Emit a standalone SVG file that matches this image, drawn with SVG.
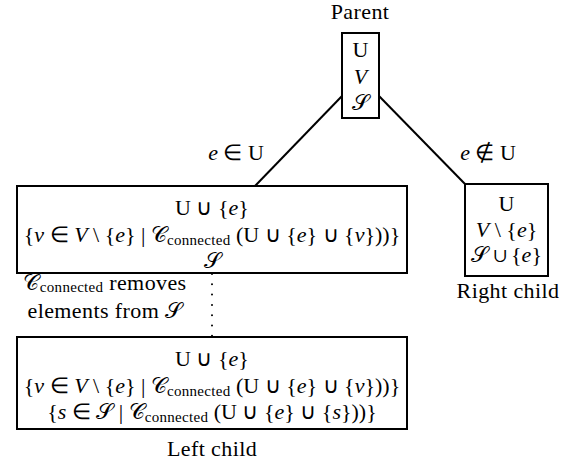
<svg xmlns="http://www.w3.org/2000/svg" width="563" height="467" viewBox="0 0 563 467" font-family="'Liberation Serif', 'Times New Roman', serif">
<style>
.box{fill:#fff;stroke:#000;stroke-width:2}
.edge{stroke:#000;stroke-width:2;fill:none}
.dot{stroke:#000;stroke-width:2;fill:none;stroke-dasharray:0 10.3;stroke-linecap:round}
.lbl{font-size:22px;letter-spacing:0.4px;text-anchor:middle;fill:#000}
.m{font-size:22px;text-anchor:middle;fill:#000}
.i{font-style:italic}
.sub{font-size:15px;letter-spacing:0.3px}
</style>
<rect width="563" height="467" fill="#fff"/>
<g id="connectors">
<line class="edge" x1="342" y1="96" x2="255" y2="186"/>
<line class="edge" x1="379" y1="96" x2="465" y2="184"/>
<line class="dot" x1="212" y1="274" x2="212" y2="337"/>
<text class="m" x="236" y="160"><tspan class="i">e</tspan> ∈ U</text>
<text class="m" x="488" y="160"><tspan class="i">e</tspan> ∉ U</text>
</g>
<g id="parent">
<text class="lbl" x="360" y="19">Parent</text>
<rect class="box" x="342" y="33" width="37" height="85"/>
<text class="m" x="360.5" y="57">U</text>
<text class="m" x="360.5" y="84"><tspan class="i">V</tspan></text>
<text class="m" x="360.5" y="110">𝒮</text>
</g>
<g id="mid">
<rect class="box" x="17" y="186" width="390" height="87"/>
<text class="m" x="212" y="215">U ∪ {<tspan class="i">e</tspan>}</text>
<text class="m" x="212" y="242">{<tspan class="i">v</tspan> ∈ <tspan class="i">V</tspan> \ {<tspan class="i">e</tspan>} | 𝒞<tspan class="sub" dy="3">connected</tspan><tspan dy="-3"> (</tspan>U ∪ {<tspan class="i">e</tspan>} ∪ {<tspan class="i">v</tspan>}))}</text>
<text class="m" x="212" y="268">𝒮</text>
</g>
<g id="note">
<text class="lbl" x="105" y="290"><tspan>𝒞</tspan><tspan class="sub" dy="2">connected</tspan><tspan dy="-2"> removes</tspan></text>
<text class="lbl" x="105" y="318">elements from 𝒮</text>
</g>
<g id="right">
<rect class="box" x="465" y="184" width="83" height="92"/>
<text class="m" x="506.5" y="211">U</text>
<text class="m" x="506.5" y="237"><tspan class="i">V</tspan> \ {<tspan class="i">e</tspan>}</text>
<text class="m" x="506.5" y="262">𝒮 ∪ {<tspan class="i">e</tspan>}</text>
<text class="lbl" x="508" y="298">Right child</text>
</g>
<g id="left">
<rect class="box" x="17" y="337" width="390" height="92"/>
<text class="m" x="212" y="366">U ∪ {<tspan class="i">e</tspan>}</text>
<text class="m" x="212" y="393">{<tspan class="i">v</tspan> ∈ <tspan class="i">V</tspan> \ {<tspan class="i">e</tspan>} | 𝒞<tspan class="sub" dy="3">connected</tspan><tspan dy="-3"> (</tspan>U ∪ {<tspan class="i">e</tspan>} ∪ {<tspan class="i">v</tspan>}))}</text>
<text class="m" x="212" y="419">{<tspan class="i">s</tspan> ∈ 𝒮 | 𝒞<tspan class="sub" dy="3">connected</tspan><tspan dy="-3"> (</tspan>U ∪ {<tspan class="i">e</tspan>} ∪ {<tspan class="i">s</tspan>}))}</text>
<text class="lbl" x="212" y="456">Left child</text>
</g>
</svg>
